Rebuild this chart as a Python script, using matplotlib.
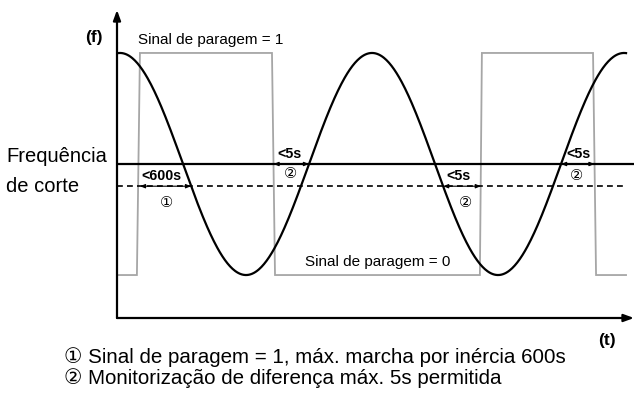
import numpy as np
import matplotlib
matplotlib.use("Agg")
import matplotlib.pyplot as plt

plt.rcParams['font.family'] = ['Liberation Sans', 'DejaVu Sans']

# tempo em periodos da onda, frequencia normalizada (amplitude 1)
freq_amplitude = 1.0
freq_period = 1.0
freq_peak_t = 0.012
t_end = 2.02
cutoff_level = 0.0
lower_level = -0.2

# sinal de paragem (0 / 1) - pontos de transicao
stop_t = [0.0, 0.079, 0.091, 0.615, 0.627, 1.440, 1.448, 1.889, 1.901, 2.02]
stop_sig = [0, 0, 1, 1, 0, 0, 1, 1, 0, 0]

# intervalos marcados: (inicio, fim, nivel)
spans = [(0.091, 0.294, lower_level), (0.621, 0.762, cutoff_level),
         (1.294, 1.444, lower_level), (1.762, 1.895, cutoff_level)]
span_labels = ["<600s", "<5s", "<5s", "<5s"]
label_pos = [(0.098, -0.108), (0.638, 0.09), (1.308, -0.108), (1.784, 0.09)]
circ_labels = ["①", "②", "②", "②"]
circ_pos = [(0.197, -0.349), (0.687, -0.09), (1.381, -0.349), (1.824, -0.105)]

notes = ["① Sinal de paragem = 1, máx. marcha por inércia 600s",
         "② Monitorização de diferença máx. 5s permitida"]

W, H = 634, 396
fig = plt.figure(figsize=(W / 100, H / 100), dpi=100)
ax = fig.add_axes([117 / W, (H - 318) / H, (W - 117) / W, (318 - 10) / H])
ax.set_xlim(0, 517 / 252)
ax.set_ylim(-1.387, 1.387)
ax.axis('off')

gray = '#a6a6a6'
t = np.linspace(0, t_end, 600)
f = freq_amplitude * np.cos(2 * np.pi * (t - freq_peak_t) / freq_period)
sig = np.array(stop_sig) * 2 - 1  # 0 -> -1, 1 -> +1

ax.plot(stop_t, sig, color=gray, lw=1.3, solid_joinstyle='miter')
ax.plot(t, f, color='black', lw=1.6)
ax.axhline(cutoff_level, color='black', lw=1.6, xmax=1.0)
ax.plot([0, t_end], [lower_level, lower_level], color='black', lw=1.2,
        dashes=(3.5, 2.5))

# eixos com setas
ax.annotate('', xy=(0, 1.0), xytext=(0, 0), xycoords='axes fraction',
            arrowprops=dict(arrowstyle='-|>,head_length=0.6,head_width=0.22',
                            color='black', lw=1.6, shrinkA=0, shrinkB=0))
ax.annotate('', xy=(1.0, 0), xytext=(0, 0), xycoords='axes fraction',
            arrowprops=dict(arrowstyle='-|>,head_length=0.6,head_width=0.22',
                            color='black', lw=1.6, shrinkA=0, shrinkB=0))

for (a, b, lvl), lab, lp, cl, cp in zip(spans, span_labels, label_pos,
                                        circ_labels, circ_pos):
    ax.annotate('', xy=(b, lvl), xytext=(a, lvl),
                arrowprops=dict(arrowstyle='<|-|>,head_length=0.3,head_width=0.12',
                                color='black', lw=0.8, shrinkA=0, shrinkB=0))
    ax.text(lp[0], lp[1], lab, fontsize=10.3, fontweight='bold', ha='left',
            va='center')
    ax.text(cp[0], cp[1], cl, fontsize=10.5, ha='center', va='center')

ax.text(0.084, 1.08, "Sinal de paragem = 1", fontsize=11, ha='left',
        va='baseline')
ax.text(0.746, -0.92, "Sinal de paragem = 0", fontsize=11, ha='left',
        va='baseline')

fig.text(85 / W, (H - 42) / H, "(f)", fontsize=12.5, fontweight='bold',
         va='baseline')
fig.text(598 / W, (H - 345) / H, "(t)", fontsize=12.5, fontweight='bold',
         va='baseline')
fig.text(6 / W, (H - 162) / H, "Frequência", fontsize=14.5, va='baseline')
fig.text(6 / W, (H - 192) / H, "de corte", fontsize=14.5, va='baseline')
fig.text(64 / W, (H - 363) / H, notes[0], fontsize=14.8, va='baseline')
fig.text(64 / W, (H - 384) / H, notes[1], fontsize=14.8, va='baseline')

fig.savefig('out.png', dpi=100)
